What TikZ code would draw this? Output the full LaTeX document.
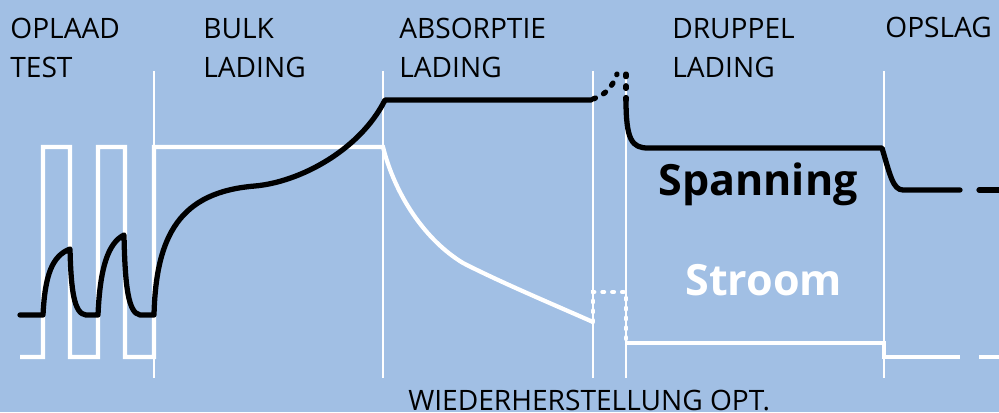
\documentclass[tikz,border=0pt]{standalone}
\usepackage{fontspec}
\setmainfont{Open Sans}
\usepackage{tikz}
\usetikzlibrary{arrows.meta}

\definecolor{achtergrond}{RGB}{161,191,228}

\tikzset{
    fase/.style={anchor=base west, inner sep=0pt, align=left,
        font=\fontsize{16}{22}\selectfont},
    groot/.style={anchor=base west, inner sep=0pt,
        font=\fontsize{24.5}{28}\selectfont\bfseries},
    grens/.style={white, line width=0.6pt},
    spanninglijn/.style={black, line width=3pt, line cap=round, line join=round},
    stroomlijn/.style={white, line width=2.4pt},
    zwartstip/.style={dash pattern=on 1.5pt off 5.2pt, line cap=round},
    witstip/.style={dash pattern=on 1pt off 4.6pt, line cap=round}
}

\begin{document}
\begin{tikzpicture}[x=0.02cm, y=-0.02cm]
            \fill[achtergrond] (0,0) rectangle (999,412);
            \useasboundingbox (0,0) rectangle (999,412);

            % fase grenzen
            \foreach \gx in {154, 383, 593, 626, 884}
                \draw[grens] (\gx,71) -- (\gx,378);

            \node[fase] (oplaad)    at (10, 77)   {OPLAAD\\TEST};
            \node[fase] (bulk)      at (203, 77)  {BULK\\LADING};
            \node[fase] (absorptie) at (399, 77)  {ABSORPTIE\\LADING};
            \node[fase] (druppel)   at (672, 77)  {DRUPPEL\\LADING};
            \node[fase] (opslag)    at (885, 38)  {OPSLAG};
            \node[fase] (herstel)   at (408, 410) {WIEDERHERSTELLUNG OPT.};

            \node[groot, black] (spanning) at (658, 195) {Spanning};
            \node[groot, white] (stroom)   at (685, 295) {Stroom};

            % stroom
            \draw[stroomlijn] (20,357) -- (43,357) -- (43,147) -- (70,147) -- (70,357)
                -- (98,357) -- (98,147) -- (125,147) -- (125,357) -- (154,357)
                -- (154,147) -- (383,147)
                .. controls (395,195) and (425,240) .. (463,263)
                .. controls (500,282) and (550,303) .. (593,322);
            \draw[stroomlijn, witstip] (593,322) -- (593,292) -- (626,292) -- (626,343);
            \draw[stroomlijn] (626,343) -- (884,343) -- (884,357) -- (960,357);
            \draw[stroomlijn] (979,357) -- (999,357);

            % spanning
            \draw[spanninglijn] (20,315) -- (43,315)
                .. controls (45,275) and (52,256) .. (70,249)
                .. controls (71,290) and (74,314) .. (86,315) -- (98,315)
                .. controls (100,268) and (108,243) .. (124,235)
                .. controls (125,285) and (128,313) .. (140,315) -- (154,315)
                .. controls (156,235) and (180,192) .. (255,186)
                .. controls (300,182) and (360,150) .. (385,100)
                -- (591,100);
            \draw[spanninglijn, zwartstip] (593,99) .. controls (605,95) and (612,88) .. (617,74);
            \draw[spanninglijn, zwartstip] (626,74) -- (626,100);
            \draw[spanninglijn] (626,100) .. controls (626,140) and (632,148) .. (648,148)
                -- (882,148)
                .. controls (890,175) and (893,190) .. (903,190) -- (960,190);
            \draw[spanninglijn] (979,190) -- (999,190);
        \end{tikzpicture}
\end{document}
